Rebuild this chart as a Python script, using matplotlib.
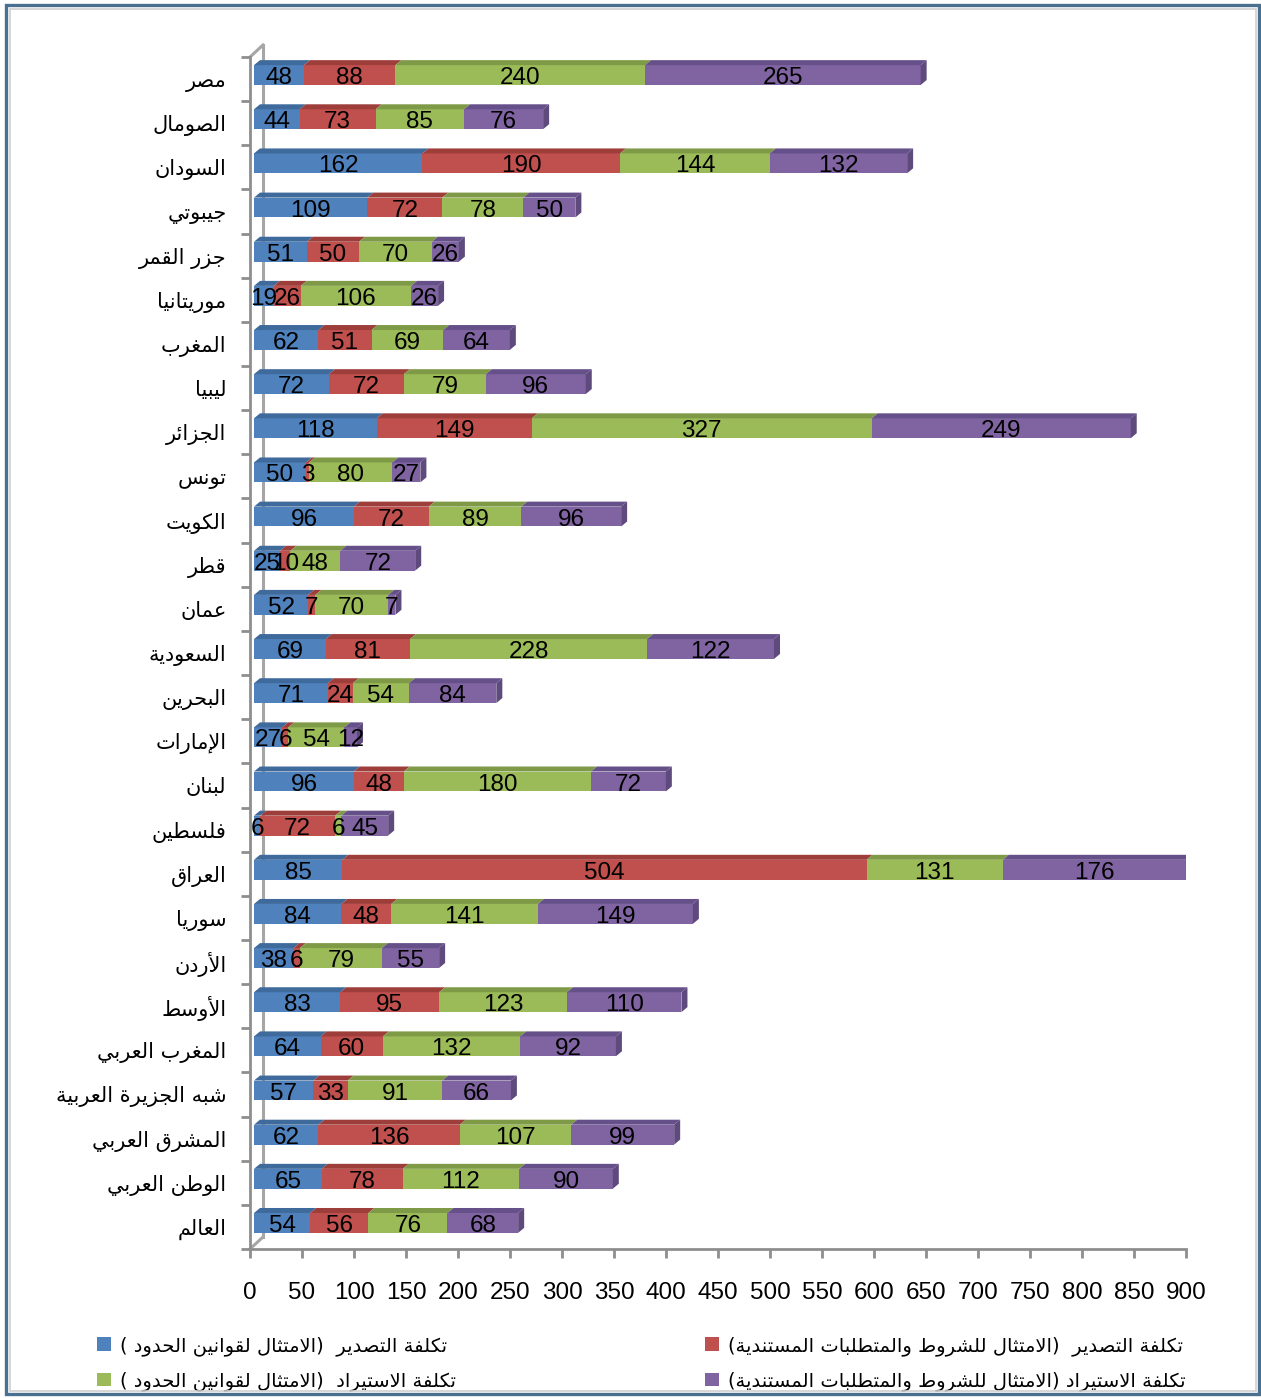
import numpy as np
import matplotlib.pyplot as plt
import matplotlib.transforms as mtransforms
from matplotlib.patches import Polygon, Rectangle
from matplotlib.lines import Line2D

# --- Data (top row first) ---
countries = ["مصر", "الصومال", "السودان", "جيبوتي", "جزر القمر", "موريتانيا",
             "المغرب", "ليبيا", "الجزائر", "تونس", "الكويت", "قطر", "عمان",
             "السعودية", "البحرين", "الإمارات", "لبنان", "فلسطين", "العراق",
             "سوريا", "الأردن", "الأوسط", "المغرب العربي", "شبه الجزيرة العربية",
             "المشرق العربي", "الوطن العربي", "العالم"]
export_border = [48, 44, 162, 109, 51, 19, 62, 72, 118, 50, 96, 25, 52, 69, 71, 27,
                 96, 6, 85, 84, 38, 83, 64, 57, 62, 65, 54]
export_docs = [88, 73, 190, 72, 50, 26, 51, 72, 149, 3, 72, 10, 7, 81, 24, 6,
               48, 72, 504, 48, 6, 95, 60, 33, 136, 78, 56]
import_border = [240, 85, 144, 78, 70, 106, 69, 79, 327, 80, 89, 48, 70, 228, 54, 54,
                 180, 6, 131, 141, 79, 123, 132, 91, 107, 112, 76]
import_docs = [265, 76, 132, 50, 26, 26, 64, 96, 249, 27, 96, 72, 7, 122, 84, 12,
               72, 45, 176, 149, 55, 110, 92, 66, 99, 90, 68]
series_names = ["تكلفة التصدير  (الامتثال لقوانين الحدود )",
                "تكلفة التصدير  (الامتثال للشروط والمتطلبات المستندية)",
                "تكلفة الاستيراد  (الامتثال لقوانين الحدود )",
                "تكلفة الاستيراد (الامتثال للشروط والمتطلبات المستندية)"]
x_ticks = np.arange(0, 901, 50)

colors = ["#4F81BD", "#C0504D", "#9BBB59", "#8064A2"]
top_colors = ["#3F6A9C", "#9E3E3B", "#7F9A47", "#66508A"]
cap_color = "#5E4A7C"

# --- Arabic shaping (matplotlib has no bidi/joining support) ---
DUAL = {'ئ': 0xFE89, 'ب': 0xFE8F, 'ت': 0xFE95, 'ث': 0xFE99, 'ج': 0xFE9D, 'ح': 0xFEA1,
        'خ': 0xFEA5, 'س': 0xFEB1, 'ش': 0xFEB5, 'ص': 0xFEB9, 'ض': 0xFEBD, 'ط': 0xFEC1,
        'ظ': 0xFEC5, 'ع': 0xFEC9, 'غ': 0xFECD, 'ف': 0xFED1, 'ق': 0xFED5, 'ك': 0xFED9,
        'ل': 0xFEDD, 'م': 0xFEE1, 'ن': 0xFEE5, 'ه': 0xFEE9, 'ي': 0xFEF1}
RIGHT = {'آ': 0xFE81, 'أ': 0xFE83, 'ؤ': 0xFE85, 'إ': 0xFE87, 'ا': 0xFE8D, 'ة': 0xFE93,
         'د': 0xFEA9, 'ذ': 0xFEAB, 'ر': 0xFEAD, 'ز': 0xFEAF, 'و': 0xFEED, 'ى': 0xFEEF}
LAM_ALEF = {'آ': 0xFEF5, 'أ': 0xFEF7, 'إ': 0xFEF9, 'ا': 0xFEFB}


def shape(text):
    out = []
    i, n = 0, len(text)
    while i < n:
        c = text[i]
        link_prev = i > 0 and text[i - 1] in DUAL
        nxt = text[i + 1] if i + 1 < n else ''
        if c == 'ل' and nxt in LAM_ALEF:
            out.append(chr(LAM_ALEF[nxt] + link_prev))
            i += 2
            continue
        if c in DUAL:
            link_next = nxt in DUAL or nxt in RIGHT
            k = (3 if link_next else 1) if link_prev else (2 if link_next else 0)
            out.append(chr(DUAL[c] + k))
        elif c in RIGHT:
            out.append(chr(RIGHT[c] + link_prev))
        else:
            out.append(c)
        i += 1
    mirror = {'(': ')', ')': '('}
    return ''.join(mirror.get(ch, ch) for ch in reversed(out))


num_font = ['Liberation Sans', 'DejaVu Sans']
ar_font = ['DejaVu Sans']
axis_gray = "#8E8E8E"

fig = plt.figure(figsize=(12.61, 13.98), dpi=100)
ax = fig.add_axes([250 / 1261, 1 - 1249 / 1398, 936 / 1261, 1192 / 1398])
n = len(countries)
ax.set_xlim(0, 900)
ax.set_ylim(n - 0.5, -0.5)
ypos = np.arange(n)
bar_h = 0.45

# bars sit a little behind the front plane
trans = ax.transData + mtransforms.ScaledTranslation(4 / 100, 4 / 100, fig.dpi_scale_trans)
px_x = ax.bbox.width / 900
px_y = ax.bbox.height / n
dx, dy = 6 / px_x, 5 / px_y

series = [export_border, export_docs, import_border, import_docs]
left = np.zeros(n)
handles = []
for vals, col, tcol in zip(series, colors, top_colors):
    vals = np.array(vals)
    bars = ax.barh(ypos, vals, left=left, height=bar_h, color=col, linewidth=0)
    for b in bars:
        b.set_transform(trans)
    handles.append(bars)
    for y, l, v in zip(ypos, left, vals):
        top = y - bar_h / 2
        ax.add_patch(Polygon([(l, top), (l + v, top), (l + v + dx, top - dy), (l + dx, top - dy)],
                             closed=True, facecolor=tcol, edgecolor='none', transform=trans))
        ax.text(l + v / 2, y + 0.07, str(v), transform=trans, ha='center', va='center',
                fontsize=17.5, family=num_font, color='black')
    left = left + vals

# end caps of the stacks
for y, r in zip(ypos, left):
    top, bot = y - bar_h / 2, y + bar_h / 2
    ax.add_patch(Polygon([(r, top), (r + dx, top - dy), (r + dx, bot - dy), (r, bot)],
                         closed=True, facecolor=cap_color, edgecolor='none', transform=trans))

# back wall edge of the 3D frame
dxa, dya = 13 / ax.bbox.width, 12 / ax.bbox.height
for xs, ys in [([dxa, dxa], [dya, 1 + dya]), ([0, dxa], [1, 1 + dya]), ([0, dxa], [0, dya])]:
    ax.add_line(Line2D(xs, ys, transform=ax.transAxes, color="#A6A6A6", lw=2.2,
                       clip_on=False, zorder=0))

for s in ['top', 'right']:
    ax.spines[s].set_visible(False)
for s in ['left', 'bottom']:
    ax.spines[s].set_color(axis_gray)
    ax.spines[s].set_linewidth(2)

ax.set_yticks(ypos)
ax.set_yticklabels([shape(c) for c in countries], family=ar_font, fontsize=15)
ax.set_yticks(np.arange(-0.5, n), minor=True)
ax.tick_params(axis='y', which='major', length=0, pad=17)
ax.tick_params(axis='y', which='minor', length=6.5, width=2, color=axis_gray, direction='out')
ax.set_xticks(x_ticks)
ax.set_xticklabels([str(t) for t in x_ticks], family=num_font, fontsize=17.5)
ax.tick_params(axis='x', length=6.5, width=2, color=axis_gray, direction='out', pad=17)

# two columns: border-compliance costs on the left, documentary costs on the right
order = [0, 2, 1, 3]
leg = ax.legend([handles[k][0] for k in order], [shape(series_names[k]) for k in order], ncol=2,
                loc='upper left', bbox_to_anchor=(97 / 1261, 1 - 1336 / 1398),
                bbox_transform=fig.transFigure, frameon=False, borderpad=0, borderaxespad=0,
                handlelength=0.7, handleheight=0.7, handletextpad=0.5, labelspacing=0.8,
                columnspacing=12.8, prop={'family': ar_font, 'size': 14})

# frame around the whole chart
fig.add_artist(Rectangle((6 / 1261, 4 / 1398), 1253 / 1261, 1389 / 1398, transform=fig.transFigure,
                         fill=False, edgecolor="#4A7090", lw=2.4))
fig.add_artist(Rectangle((9.5 / 1261, 7.5 / 1398), 1246 / 1261, 1382 / 1398, transform=fig.transFigure,
                         fill=False, edgecolor="#D0D0D0", lw=1.2))

fig.savefig("out.png", dpi=100)
